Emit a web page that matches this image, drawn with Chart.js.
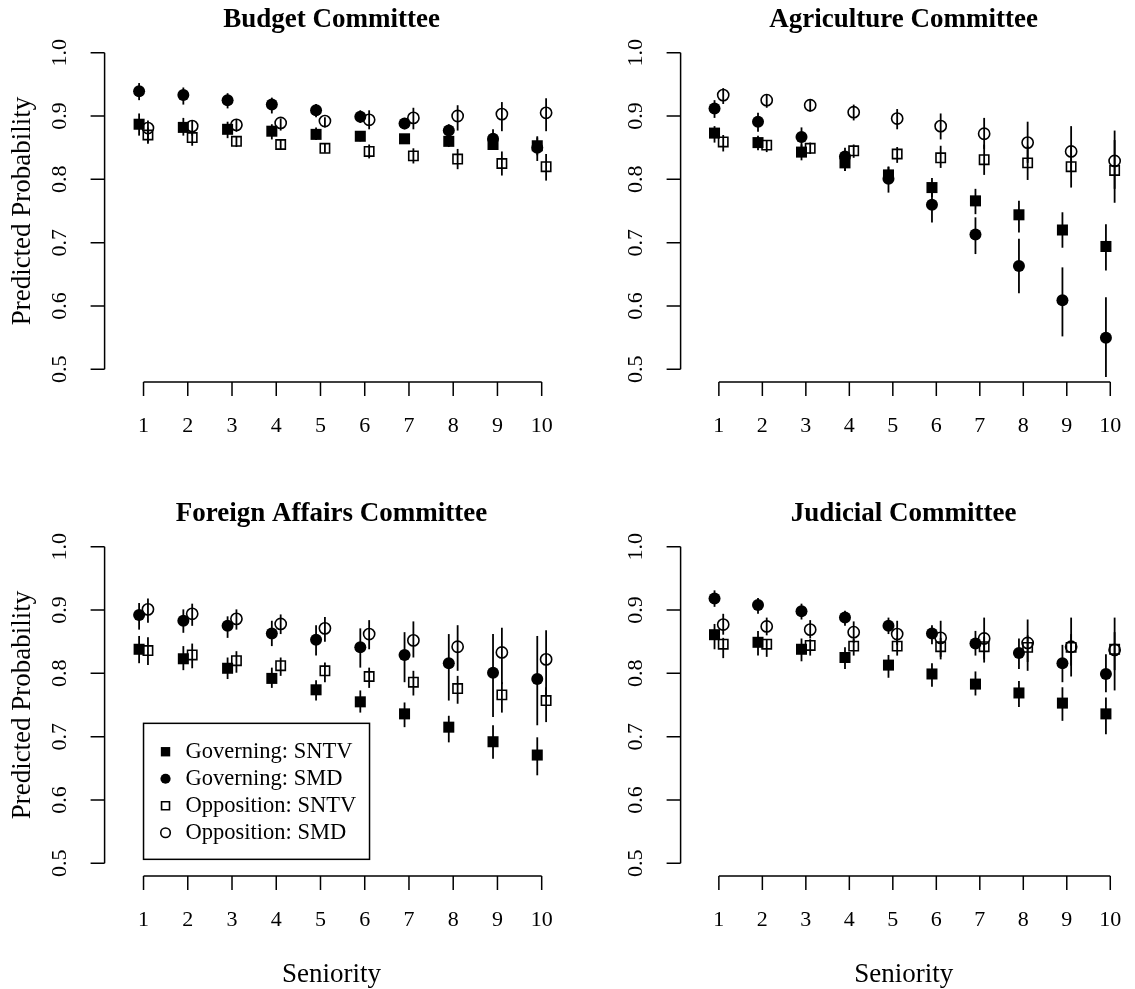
<!DOCTYPE html>
<html>
<head>
<meta charset="utf-8">
<script src="https://cdn.jsdelivr.net/npm/chart.js@4.4.1/dist/chart.umd.min.js"></script>
<style>
  body { margin: 0; background: #fff; }
  #wrap { position: relative; width: 1135px; height: 989px; }
  canvas { position: absolute; }
</style>
</head>
<body>
<div id="wrap">
  <canvas id="budget" width="567" height="494" style="left:0;top:0"></canvas>
  <canvas id="agri" width="568" height="494" style="left:567px;top:0"></canvas>
  <canvas id="foreign" width="567" height="495" style="left:0;top:494px"></canvas>
  <canvas id="judicial" width="568" height="495" style="left:567px;top:494px"></canvas>
</div>
<script>
// x categories and tick labels
const seniority = [1, 2, 3, 4, 5, 6, 7, 8, 9, 10];
const yTicks = [0.5, 0.6, 0.7, 0.8, 0.9, 1.0];
const seriesNames = ['Governing: SNTV', 'Governing: SMD', 'Opposition: SNTV', 'Opposition: SMD'];

// each panel: rows are [gov SNTV, gov SMD, opp SNTV, opp SMD]
const budget_est = [
  [0.887, 0.882, 0.879, 0.876, 0.871, 0.868, 0.864, 0.860, 0.855, 0.853],
  [0.939, 0.933, 0.925, 0.918, 0.909, 0.899, 0.888, 0.877, 0.864, 0.850],
  [0.870, 0.866, 0.860, 0.855, 0.849, 0.844, 0.837, 0.832, 0.825, 0.820],
  [0.881, 0.884, 0.886, 0.889, 0.892, 0.894, 0.897, 0.900, 0.903, 0.905]
];
const budget_lo = [
  [0.869, 0.869, 0.865, 0.863, 0.862, 0.860, 0.856, 0.851, 0.847, 0.838],
  [0.925, 0.918, 0.912, 0.904, 0.898, 0.889, 0.879, 0.866, 0.848, 0.829],
  [0.856, 0.853, 0.851, 0.847, 0.842, 0.833, 0.825, 0.816, 0.806, 0.798],
  [0.858, 0.869, 0.875, 0.877, 0.882, 0.879, 0.879, 0.877, 0.876, 0.876]
];
const budget_hi = [
  [0.904, 0.897, 0.891, 0.887, 0.882, 0.876, 0.871, 0.868, 0.864, 0.868],
  [0.952, 0.945, 0.936, 0.929, 0.919, 0.909, 0.897, 0.887, 0.879, 0.866],
  [0.882, 0.876, 0.868, 0.863, 0.857, 0.855, 0.849, 0.848, 0.844, 0.840],
  [0.893, 0.893, 0.894, 0.896, 0.898, 0.909, 0.913, 0.917, 0.922, 0.928]
];

const agri_est = [
  [0.873, 0.858, 0.843, 0.826, 0.807, 0.787, 0.766, 0.744, 0.720, 0.694],
  [0.912, 0.891, 0.867, 0.836, 0.801, 0.760, 0.713, 0.663, 0.609, 0.550],
  [0.859, 0.854, 0.849, 0.845, 0.840, 0.834, 0.831, 0.826, 0.820, 0.814],
  [0.933, 0.925, 0.917, 0.906, 0.896, 0.884, 0.872, 0.858, 0.844, 0.829]
];
const agri_lo = [
  [0.858, 0.846, 0.830, 0.813, 0.793, 0.772, 0.745, 0.716, 0.692, 0.656],
  [0.897, 0.875, 0.851, 0.813, 0.779, 0.732, 0.682, 0.620, 0.552, 0.488],
  [0.844, 0.843, 0.840, 0.834, 0.826, 0.818, 0.807, 0.799, 0.787, 0.763],
  [0.919, 0.913, 0.907, 0.893, 0.879, 0.863, 0.848, 0.826, 0.813, 0.785]
];
const agri_hi = [
  [0.884, 0.869, 0.855, 0.840, 0.820, 0.802, 0.785, 0.766, 0.748, 0.729],
  [0.925, 0.905, 0.882, 0.850, 0.820, 0.782, 0.740, 0.706, 0.661, 0.614],
  [0.870, 0.862, 0.858, 0.855, 0.851, 0.853, 0.855, 0.853, 0.852, 0.862],
  [0.944, 0.934, 0.925, 0.918, 0.911, 0.904, 0.897, 0.891, 0.884, 0.877]
];

const foreign_est = [
  [0.838, 0.823, 0.808, 0.792, 0.774, 0.755, 0.736, 0.715, 0.692, 0.671],
  [0.892, 0.883, 0.875, 0.863, 0.853, 0.841, 0.829, 0.816, 0.801, 0.791],
  [0.836, 0.829, 0.820, 0.812, 0.804, 0.795, 0.786, 0.776, 0.766, 0.757],
  [0.901, 0.894, 0.886, 0.878, 0.871, 0.862, 0.852, 0.842, 0.833, 0.822]
];
const foreign_lo = [
  [0.816, 0.805, 0.791, 0.777, 0.757, 0.738, 0.715, 0.691, 0.665, 0.639],
  [0.869, 0.864, 0.856, 0.843, 0.828, 0.809, 0.786, 0.757, 0.731, 0.718],
  [0.813, 0.808, 0.801, 0.796, 0.786, 0.777, 0.765, 0.752, 0.738, 0.723],
  [0.880, 0.875, 0.869, 0.862, 0.850, 0.838, 0.825, 0.804, 0.783, 0.765]
];
const foreign_hi = [
  [0.859, 0.843, 0.825, 0.809, 0.789, 0.773, 0.754, 0.733, 0.718, 0.699],
  [0.911, 0.901, 0.890, 0.883, 0.876, 0.871, 0.865, 0.862, 0.862, 0.859],
  [0.857, 0.847, 0.835, 0.825, 0.817, 0.809, 0.804, 0.796, 0.786, 0.778],
  [0.918, 0.910, 0.901, 0.893, 0.889, 0.884, 0.882, 0.876, 0.872, 0.868]
];

const judicial_est = [
  [0.861, 0.849, 0.838, 0.825, 0.813, 0.799, 0.783, 0.769, 0.753, 0.736],
  [0.918, 0.908, 0.898, 0.888, 0.875, 0.863, 0.847, 0.832, 0.816, 0.799],
  [0.846, 0.846, 0.844, 0.843, 0.843, 0.842, 0.842, 0.841, 0.841, 0.838],
  [0.877, 0.874, 0.869, 0.865, 0.862, 0.856, 0.855, 0.848, 0.842, 0.837]
];
const judicial_lo = [
  [0.838, 0.828, 0.819, 0.807, 0.793, 0.779, 0.765, 0.747, 0.725, 0.704],
  [0.905, 0.894, 0.885, 0.875, 0.862, 0.846, 0.828, 0.807, 0.786, 0.770],
  [0.824, 0.826, 0.828, 0.828, 0.828, 0.826, 0.822, 0.818, 0.812, 0.805],
  [0.861, 0.860, 0.855, 0.848, 0.845, 0.822, 0.817, 0.804, 0.795, 0.773]
];
const judicial_hi = [
  [0.878, 0.867, 0.855, 0.841, 0.829, 0.816, 0.803, 0.788, 0.778, 0.762],
  [0.931, 0.919, 0.910, 0.899, 0.888, 0.876, 0.867, 0.855, 0.845, 0.830],
  [0.856, 0.854, 0.854, 0.854, 0.856, 0.856, 0.858, 0.860, 0.862, 0.865],
  [0.894, 0.888, 0.884, 0.882, 0.883, 0.883, 0.888, 0.885, 0.888, 0.888]
];

const SERIF = "'Liberation Serif', 'DejaVu Serif', serif";
Chart.defaults.font.family = SERIF;

// marker look per series (R pch 15, 16, 0, 1)
const markers = [
  { pointStyle: 'rect', radius: 7.8, fill: '#000', border: 0, dx: -0.1 },
  { pointStyle: 'circle', radius: 6.0, fill: '#000', border: 0, dx: -0.1 },
  { pointStyle: 'rect', radius: 6.6, fill: 'rgba(0,0,0,0)', border: 1.6, dx: 0.1 },
  { pointStyle: 'circle', radius: 5.6, fill: 'rgba(0,0,0,0)', border: 1.6, dx: 0.1 }
];

// error bars, R style axes, titles and legend
const rStyle = {
  id: 'rStyle',
  beforeDatasetsDraw(chart) {
    const ctx = chart.ctx, xs = chart.scales.x, ys = chart.scales.y;
    ctx.save();
    ctx.strokeStyle = '#000';
    ctx.lineWidth = 1.8;
    chart.data.datasets.forEach(ds => {
      ds.data.forEach((p, i) => {
        const px = xs.getPixelForValue(p.x);
        ctx.beginPath();
        ctx.moveTo(px, ys.getPixelForValue(ds.lo[i]));
        ctx.lineTo(px, ys.getPixelForValue(ds.hi[i]));
        ctx.stroke();
      });
    });
    ctx.restore();
  },
  afterDraw(chart, args, o) {
    const ctx = chart.ctx, xs = chart.scales.x, ys = chart.scales.y;
    const area = chart.chartArea;
    ctx.save();
    ctx.strokeStyle = '#000';
    ctx.fillStyle = '#000';
    ctx.lineWidth = 1.5;

    // y axis
    const yTop = ys.getPixelForValue(yTicks[yTicks.length - 1]);
    const yBot = ys.getPixelForValue(yTicks[0]);
    ctx.beginPath();
    ctx.moveTo(area.left, yTop);
    ctx.lineTo(area.left, yBot);
    yTicks.forEach(v => {
      const py = ys.getPixelForValue(v);
      ctx.moveTo(area.left, py);
      ctx.lineTo(area.left - 14, py);
    });
    ctx.stroke();
    ctx.font = '22px ' + SERIF;
    ctx.textAlign = 'center';
    ctx.textBaseline = 'middle';
    yTicks.forEach(v => {
      ctx.save();
      ctx.translate(area.left - 44, ys.getPixelForValue(v));
      ctx.rotate(-Math.PI / 2);
      ctx.fillText(v.toFixed(1), 0, 0);
      ctx.restore();
    });

    // x axis
    const xL = xs.getPixelForValue(seniority[0]);
    const xR = xs.getPixelForValue(seniority[seniority.length - 1]);
    ctx.beginPath();
    ctx.moveTo(xL, area.bottom);
    ctx.lineTo(xR, area.bottom);
    seniority.forEach(v => {
      const px = xs.getPixelForValue(v);
      ctx.moveTo(px, area.bottom);
      ctx.lineTo(px, area.bottom + 14);
    });
    ctx.stroke();
    seniority.forEach(v => {
      ctx.fillText(String(v), xs.getPixelForValue(v), area.bottom + 44);
    });

    // panel title
    ctx.font = 'bold 27px ' + SERIF;
    ctx.fillText(o.title, (area.left + area.right) / 2, 20);

    ctx.font = '27px ' + SERIF;
    if (o.yTitle) {
      ctx.save();
      ctx.translate(23, (area.top + area.bottom) / 2);
      ctx.rotate(-Math.PI / 2);
      ctx.fillText('Predicted Probability', 0, 0);
      ctx.restore();
    }
    if (o.xTitle) {
      ctx.fillText('Seniority', (area.left + area.right) / 2, area.bottom + 99);
    }

    // legend box
    if (o.legend) {
      const bx = xs.getPixelForValue(seniority[0]);
      const bBottom = yBot - 4;
      const bw = 226, bh = 136;
      ctx.lineWidth = 1.5;
      ctx.strokeRect(bx, bBottom - bh, bw, bh);
      ctx.font = '22.5px ' + SERIF;
      ctx.textAlign = 'left';
      chart.data.datasets.forEach((ds, k) => {
        const cy = bBottom - bh + 28.4 + 27 * k;
        ctx.fillStyle = ds.backgroundColor;
        ctx.strokeStyle = '#000';
        ctx.lineWidth = ds.borderWidth;
        Chart.helpers.drawPoint(ctx, {
          pointStyle: ds.pointStyle,
          radius: ds.pointRadius * 0.85,
          borderWidth: ds.borderWidth
        }, bx + 22, cy);
        ctx.fillStyle = '#000';
        ctx.fillText(ds.label, bx + 42, cy);
      });
    }
    ctx.restore();
  }
};

function makePanel(id, title, est, lo, hi, opt) {
  const datasets = seriesNames.map((name, k) => ({
    label: name,
    data: seniority.map((s, i) => ({ x: s + markers[k].dx, y: est[k][i] })),
    lo: lo[k],
    hi: hi[k],
    pointStyle: markers[k].pointStyle,
    pointRadius: markers[k].radius,
    pointHoverRadius: markers[k].radius,
    backgroundColor: markers[k].fill,
    borderColor: '#000',
    borderWidth: markers[k].border,
    showLine: false
  }));
  return new Chart(document.getElementById(id), {
    type: 'scatter',
    data: { datasets: datasets },
    options: {
      responsive: false,
      animation: false,
      clip: false,
      layout: { padding: opt.padding },
      scales: {
        x: { type: 'linear', min: 0.12, max: 10.38, display: false },
        y: { type: 'linear', min: 0.48, max: 1.02, display: false }
      },
      plugins: {
        legend: { display: false },
        tooltip: { enabled: false },
        rStyle: { title: title, yTitle: opt.yTitle, xTitle: opt.xTitle, legend: opt.legend }
      }
    },
    plugins: [rStyle]
  });
}

const padLeft = { left: 104.6, right: 8.5, top: 40, bottom: 112 };
const padRight = { left: 113.6, right: 0.5, top: 40, bottom: 112 };
const padLeftB = { left: 104.6, right: 8.5, top: 40, bottom: 113 };
const padRightB = { left: 113.6, right: 0.5, top: 40, bottom: 113 };

makePanel('budget', 'Budget Committee', budget_est, budget_lo, budget_hi,
  { padding: padLeft, yTitle: true, xTitle: false, legend: false });
makePanel('agri', 'Agriculture Committee', agri_est, agri_lo, agri_hi,
  { padding: padRight, yTitle: false, xTitle: false, legend: false });
makePanel('foreign', 'Foreign Affairs Committee', foreign_est, foreign_lo, foreign_hi,
  { padding: padLeftB, yTitle: true, xTitle: true, legend: true });
makePanel('judicial', 'Judicial Committee', judicial_est, judicial_lo, judicial_hi,
  { padding: padRightB, yTitle: false, xTitle: true, legend: false });
</script>
</body>
</html>
